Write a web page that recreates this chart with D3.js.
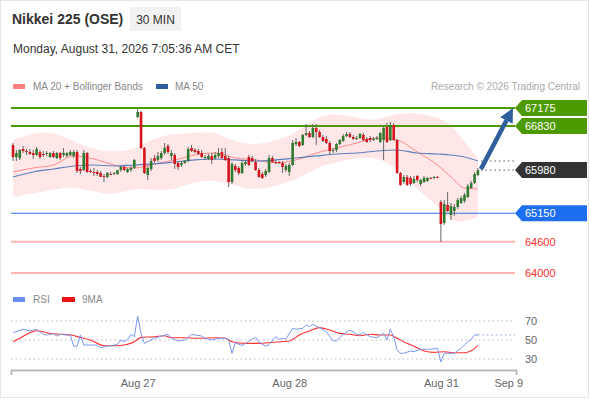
<!DOCTYPE html>
<html>
<head>
<meta charset="utf-8">
<script src="https://cdn.jsdelivr.net/npm/d3@7"></script>
<style>
  body { margin: 0; background: #fff; }
  svg { font-family: Arial, "Liberation Sans", sans-serif; }
</style>
</head>
<body>
<div id="chart"></div>
<script>
// 30 min candles, [open, high, low, close]
const candles = [
  [66463, 66502, 66155, 66232], [66232, 66367, 66155, 66309], [66213, 66386, 66175, 66367],
  [66386, 66444, 66309, 66348], [66348, 66386, 66271, 66328], [66328, 66386, 66271, 66290],
  [66309, 66367, 66194, 66271], [66271, 66425, 66252, 66386], [66328, 66367, 66194, 66232],
  [66290, 66348, 66232, 66271], [66290, 66348, 66252, 66309], [66232, 66328, 66213, 66309],
  [66309, 66348, 66213, 66232], [66213, 66328, 66194, 66309], [66309, 66328, 66175, 66213],
  [66271, 66405, 66232, 66309], [66252, 66328, 66232, 66309], [66271, 66367, 66252, 66328],
  [66252, 66367, 66213, 66328], [66328, 66367, 65924, 65963], [66001, 66040, 65905, 65963],
  [65982, 66367, 65963, 66309], [66309, 66328, 65924, 65944], [65963, 66001, 65924, 65944],
  [65944, 66021, 65867, 65924], [65944, 65982, 65867, 65905], [65924, 65963, 65848, 65850],
  [65867, 65905, 65751, 65848], [65848, 65944, 65828, 65924], [65905, 65944, 65886, 65900],
  [65905, 65944, 65886, 65924], [65905, 65963, 65886, 65982], [65982, 66059, 65944, 66040],
  [66040, 66078, 65963, 65982], [65944, 66021, 65924, 66001], [65982, 66059, 65944, 66021],
  [66021, 66194, 66001, 66175], [67002, 67156, 66983, 67098], [67098, 67117, 66386, 66405],
  [66405, 66425, 65905, 65924], [65886, 66059, 65790, 66021], [66001, 66213, 65963, 66155],
  [66213, 66271, 66117, 66155], [66175, 66328, 66136, 66252], [66213, 66348, 66175, 66309],
  [66309, 66502, 66271, 66405], [66444, 66482, 66290, 66328], [66252, 66367, 66175, 66309],
  [66271, 66309, 66001, 66098], [66117, 66155, 65982, 66040], [66078, 66155, 66040, 66117],
  [66117, 66175, 66098, 66155], [66155, 66425, 66136, 66386], [66405, 66463, 66328, 66348],
  [66367, 66405, 66309, 66328], [66348, 66386, 66271, 66290], [66309, 66367, 66213, 66232],
  [66213, 66271, 66175, 66232], [66194, 66290, 66175, 66252], [66252, 66309, 66098, 66175],
  [66213, 66328, 66175, 66271], [66252, 66405, 66213, 66309], [66328, 66405, 66194, 66213],
  [66252, 66405, 66155, 66175], [66213, 66252, 65655, 65751], [65751, 66136, 65713, 66098],
  [66059, 66098, 65944, 65982], [66021, 66059, 65886, 65924], [65924, 66175, 65905, 66117],
  [66098, 66175, 66059, 66136], [66232, 66271, 66059, 66078], [66213, 66252, 66136, 66155],
  [66136, 66194, 65963, 65982], [65982, 66021, 65828, 65848], [65905, 65944, 65809, 65828],
  [65886, 66001, 65848, 65963], [65944, 66271, 65924, 66213], [66213, 66252, 66117, 66136],
  [66136, 66175, 66098, 66130], [66136, 66155, 66098, 66117], [66117, 66155, 65924, 66040],
  [65982, 66098, 65944, 66059], [65944, 66117, 65867, 66078], [66078, 66559, 66059, 66502],
  [66482, 66598, 66444, 66521], [66521, 66540, 66425, 66444], [66463, 66675, 66444, 66656],
  [66656, 66867, 66636, 66694], [66694, 66732, 66598, 66617], [66617, 66867, 66598, 66790],
  [66790, 66867, 66463, 66713], [66713, 66752, 66598, 66617], [66617, 66656, 66521, 66540],
  [66579, 66636, 66482, 66502], [66502, 66540, 66271, 66348], [66348, 66405, 66309, 66367],
  [66367, 66502, 66328, 66482], [66482, 66579, 66463, 66559], [66540, 66675, 66521, 66636],
  [66636, 66713, 66617, 66675], [66675, 66713, 66598, 66617], [66617, 66656, 66559, 66579],
  [66579, 66636, 66559, 66598], [66598, 66694, 66579, 66675], [66656, 66694, 66540, 66559],
  [66579, 66617, 66502, 66521], [66598, 66636, 66521, 66559], [66559, 66617, 66540, 66579],
  [66579, 66636, 66559, 66598], [66521, 66713, 66502, 66694], [66559, 66829, 66175, 66790],
  [66809, 66886, 66502, 66521], [66559, 66906, 66540, 66848], [66848, 66886, 66540, 66559],
  [66559, 66579, 65905, 65924], [65924, 65944, 65674, 65694], [65751, 65886, 65713, 65848],
  [65848, 65886, 65674, 65694], [65828, 65867, 65674, 65713], [65732, 65867, 65713, 65809],
  [65867, 65886, 65751, 65790], [65713, 65809, 65674, 65790], [65751, 65867, 65732, 65828],
  [65771, 65848, 65751, 65828], [65828, 65848, 65809, 65820], [65828, 65867, 65809, 65848],
  [65848, 65867, 65828, 65840], [65366, 65405, 64597, 64943], [64962, 65405, 64924, 65328],
  [65309, 65559, 65174, 65193], [65116, 65347, 65020, 65289], [65193, 65328, 65097, 65270],
  [65270, 65443, 65232, 65405], [65347, 65482, 65328, 65443], [65386, 65540, 65347, 65501],
  [65463, 65713, 65443, 65674], [65636, 65771, 65617, 65732], [65732, 65944, 65713, 65905],
  [65886, 66021, 65867, 65980]
];

// MA 20 + Bollinger bands and MA 50, read at these candle indexes
const bandIdx = [0, 6, 12, 18, 24, 30, 36, 42, 48, 54, 60, 66, 72, 78, 84, 90, 96, 102, 108, 114, 120, 126, 130, 134, 138];
const upperBand = [66559, 66694, 66713, 66540, 66367, 66328, 66367, 66617, 66675, 66694, 66732, 66502, 66463, 66540, 66694, 67002, 67079, 66983, 66925, 67079, 67079, 67002, 66867, 66521, 66213];
const lowerBand = [65463, 65540, 65597, 65674, 65559, 65501, 65636, 65597, 65597, 65771, 65790, 65674, 65597, 65674, 65790, 66021, 66136, 66213, 66232, 66021, 65597, 65309, 64982, 64982, 65078];
const ma20 = [65944, 66021, 66078, 66252, 66194, 66078, 66021, 66098, 66175, 66271, 66309, 66213, 66175, 66117, 66175, 66309, 66405, 66502, 66598, 66559, 66328, 66078, 65848, 65636, 65617];
const ma50 = [65848, 65944, 66001, 66059, 66078, 66059, 66078, 66098, 66136, 66175, 66194, 66175, 66155, 66175, 66213, 66252, 66290, 66309, 66348, 66367, 66309, 66290, 66271, 66232, 66155];

// RSI and its 9 period MA
const rsiIdx = [0, 3, 5, 7, 9, 10, 12, 13, 14, 16, 17, 18, 19, 20, 21, 23, 25, 26, 28, 29, 31, 32, 33, 34, 35, 36, 37, 38, 39, 41, 42, 44, 46, 47, 49, 51, 53, 54, 56, 57, 59, 61, 63, 64, 65, 66, 68, 70, 72, 73, 75, 76, 78, 79, 80, 81, 83, 84, 86, 87, 88, 89, 91, 93, 95, 96, 98, 100, 102, 103, 104, 106, 108, 110, 111, 112, 113, 114, 115, 116, 118, 119, 121, 124, 126, 127, 128, 130, 131, 133, 134, 135, 136, 137, 138];
const rsiVal = [57.7, 61.3, 59.5, 61.3, 56.0, 55.3, 56.6, 54.2, 56.0, 55.3, 55.3, 43.5, 43.2, 55.3, 44.7, 44.7, 44.7, 41.9, 43.7, 43.7, 45.5, 50.0, 48.2, 50.7, 56.0, 53.5, 75.3, 57.0, 46.5, 50.0, 51.8, 54.2, 56.0, 51.8, 49.0, 50.0, 56.0, 55.3, 54.2, 51.8, 50.0, 51.8, 51.8, 50.0, 36.0, 47.0, 44.2, 48.7, 52.9, 47.7, 43.5, 45.3, 53.5, 50.7, 51.8, 51.0, 62.3, 61.3, 62.3, 65.8, 64.0, 66.5, 63.0, 58.7, 49.0, 49.0, 56.0, 60.5, 56.0, 55.3, 58.0, 53.5, 52.4, 57.0, 50.0, 61.3, 53.5, 39.5, 36.0, 36.0, 38.4, 37.7, 40.2, 40.2, 41.2, 27.0, 36.0, 36.0, 36.0, 41.2, 44.7, 48.2, 50.7, 55.3, 55.3];
const rsiMaIdx = [0, 2, 5, 7, 10, 13, 17, 20, 23, 27, 31, 34, 36, 38, 42, 45, 47, 51, 55, 61, 63, 65, 69, 73, 77, 82, 85, 88, 91, 94, 97, 100, 103, 106, 109, 112, 114, 117, 120, 122, 125, 128, 131, 134, 136, 138];
const rsiMaVal = [48.2, 51.8, 57.7, 59.8, 57.7, 56.3, 55.3, 52.8, 50.0, 44.0, 44.0, 45.5, 48.2, 52.8, 53.5, 54.5, 52.4, 52.4, 51.8, 52.4, 51.8, 48.2, 46.5, 46.5, 47.6, 49.0, 55.3, 59.5, 63.0, 60.5, 57.0, 56.0, 54.5, 56.0, 55.3, 55.3, 51.8, 46.5, 41.9, 38.4, 37.0, 37.7, 36.6, 36.6, 38.7, 44.0];
const rsiTicks = [70, 50, 30];

// key levels
const targets = [67175, 66830];
const pivot = 65150;
const supports = [64600, 64000];

// x axis
const dayIdx = [37, 82, 127, 147];
const dayLabels = ["Aug 27", "Aug 28", "Aug 31", "Sep 9"];
const targetIdx = 148.4;

const w = 590;
const h = 400;
const font = 'Arial, "Liberation Sans", sans-serif';

const svg = d3.select("#chart").append("svg").attr("width", w).attr("height", h);

svg.append("rect")
  .attr("x", 0.5).attr("y", 0.5).attr("width", w - 2).attr("height", h - 3)
  .attr("fill", "#fff").attr("stroke", "#e6e6e6");

const xScale = d3.scaleLinear().domain([-0.6, 149.3]).range([11, 516]);
const yScale = d3.scaleLinear().domain([64000, 67175]).range([273, 108]);
const rsiScale = d3.scaleLinear().domain([30, 70]).range([359, 321]);

// header
svg.append("text").attr("x", 12).attr("y", 24)
  .attr("font-size", 14).attr("font-weight", "bold").attr("fill", "#333")
  .text("Nikkei 225 (OSE)");
svg.append("rect").attr("x", 130).attr("y", 7).attr("width", 51).attr("height", 24).attr("fill", "#f1f1f1");
svg.append("text").attr("x", 155.5).attr("y", 24).attr("text-anchor", "middle")
  .attr("font-size", 12).attr("fill", "#333").text("30 MIN");
svg.append("text").attr("x", 13).attr("y", 53)
  .attr("font-size", 12).attr("fill", "#333")
  .text("Monday, August 31, 2026 7:05:36 AM CET");

// legend
svg.append("rect").attr("x", 13).attr("y", 84).attr("width", 12).attr("height", 5).attr("fill", "#ff8080");
svg.append("text").attr("x", 33).attr("y", 90).attr("font-size", 10).attr("fill", "#888").text("MA 20 + Bollinger Bands");
svg.append("rect").attr("x", 156).attr("y", 84).attr("width", 12).attr("height", 5).attr("fill", "#2f5d9e");
svg.append("text").attr("x", 175).attr("y", 90).attr("font-size", 10).attr("fill", "#888").text("MA 50");
svg.append("text").attr("x", 580).attr("y", 90).attr("text-anchor", "end")
  .attr("font-size", 10).attr("fill", "#aaa").text("Research \u00a9 2026 Trading Central");

// bollinger band
const bandData = bandIdx.map((d, i) => ({ i: d, up: upperBand[i], lo: lowerBand[i], m20: ma20[i], m50: ma50[i] }));

svg.append("path")
  .datum(bandData)
  .attr("d", d3.area()
    .x((d) => xScale(d.i))
    .y0((d) => yScale(d.lo))
    .y1((d) => yScale(d.up))
    .curve(d3.curveBasis))
  .attr("fill", "#ffe7e7");

// level lines
const lineLeft = 11;
const lineRight = 515;

targets.forEach(function (v) {
  svg.append("line").attr("x1", lineLeft).attr("x2", lineRight)
    .attr("y1", yScale(v)).attr("y2", yScale(v))
    .attr("stroke", "#4c9a00").attr("stroke-width", 2);
});
svg.append("line").attr("x1", lineLeft).attr("x2", lineRight)
  .attr("y1", yScale(pivot)).attr("y2", yScale(pivot))
  .attr("stroke", "#2f6fe4").attr("stroke-width", 1.2);
supports.forEach(function (v) {
  svg.append("line").attr("x1", lineLeft).attr("x2", lineRight)
    .attr("y1", yScale(v)).attr("y2", yScale(v))
    .attr("stroke", "#ffb4b4").attr("stroke-width", 2);
});

// moving averages
svg.append("path")
  .datum(bandData)
  .attr("d", d3.line().x((d) => xScale(d.i)).y((d) => yScale(d.m20)).curve(d3.curveMonotoneX))
  .attr("fill", "none").attr("stroke", "#ff8c8c").attr("stroke-width", 1);
svg.append("path")
  .datum(bandData)
  .attr("d", d3.line().x((d) => xScale(d.i)).y((d) => yScale(d.m50)).curve(d3.curveMonotoneX))
  .attr("fill", "none").attr("stroke", "#5a7fbf").attr("stroke-width", 1.2);

// candles
const candleG = svg.append("g");
candleG.selectAll("line")
  .data(candles)
  .enter()
  .append("line")
  .attr("x1", (d, i) => xScale(i))
  .attr("x2", (d, i) => xScale(i))
  .attr("y1", (d) => yScale(d[1]))
  .attr("y2", (d) => yScale(d[2]))
  .attr("stroke", "#666")
  .attr("stroke-width", 1);

candleG.selectAll("rect")
  .data(candles)
  .enter()
  .append("rect")
  .attr("x", (d, i) => xScale(i) - 1.3)
  .attr("width", 2.6)
  .attr("y", (d) => yScale(Math.max(d[0], d[3])))
  .attr("height", (d) => Math.max(1, Math.abs(yScale(d[0]) - yScale(d[3]))))
  .attr("fill", (d) => d[3] >= d[0] ? "#2e7a2e" : "#d6141c");

// projection dots and arrow
const lastIdx = candles.length - 1;
const lastClose = candles[lastIdx][3];
const dotEnd = lineRight;

svg.append("line")
  .attr("x1", xScale(lastIdx) + 3).attr("x2", dotEnd)
  .attr("y1", yScale(lastClose)).attr("y2", yScale(lastClose))
  .attr("stroke", "#555").attr("stroke-dasharray", "1.5,3");
svg.append("line")
  .attr("x1", xScale(lastIdx) + 3).attr("x2", dotEnd)
  .attr("y1", yScale(ma50[ma50.length - 1])).attr("y2", yScale(ma50[ma50.length - 1]))
  .attr("stroke", "#555").attr("stroke-dasharray", "1.5,3");

const ax0 = xScale(lastIdx) + 3;
const ay0 = yScale(lastClose) - 1;
const ax1 = xScale(targetIdx);
const ay1 = yScale(targets[0]);
const ang = Math.atan2(ay1 - ay0, ax1 - ax0);
const headLen = 14;
const headW = 7;
const bx = ax1 - headLen * Math.cos(ang);
const by = ay1 - headLen * Math.sin(ang);

svg.append("line")
  .attr("x1", ax0).attr("y1", ay0).attr("x2", bx).attr("y2", by)
  .attr("stroke", "#2d5f9e").attr("stroke-width", 4.5);
svg.append("polygon")
  .attr("points", [
    [ax1, ay1],
    [bx + headW * Math.sin(ang), by - headW * Math.cos(ang)],
    [bx - headW * Math.sin(ang), by + headW * Math.cos(ang)]
  ].map((p) => p.join(",")).join(" "))
  .attr("fill", "#2d5f9e");

// price tags
function tagPath(y) {
  const x0 = 515, x1 = 587, hh = 8;
  return `M${x0},${y} L${x0 + 7},${y - hh} L${x1},${y - hh} L${x1},${y + hh} L${x0 + 7},${y + hh} Z`;
}

function addTag(v, fill, textFill) {
  const y = yScale(v);
  if (fill) {
    svg.append("path").attr("d", tagPath(y)).attr("fill", fill);
  }
  svg.append("text").attr("x", 525).attr("y", y + 4)
    .attr("font-size", 11).attr("fill", textFill).text(v);
}

targets.forEach((v) => addTag(v, "#4c9a00", "#fff"));
addTag(lastClose, "#333", "#fff");
addTag(pivot, "#1e6ef0", "#fff");
supports.forEach((v) => addTag(v, null, "#ff2b2b"));

// RSI panel
svg.append("rect").attr("x", 13).attr("y", 297).attr("width", 12).attr("height", 5).attr("fill", "#6a8ff0");
svg.append("text").attr("x", 33).attr("y", 303).attr("font-size", 10).attr("fill", "#888").text("RSI");
svg.append("rect").attr("x", 62).attr("y", 297).attr("width", 13).attr("height", 5).attr("fill", "#ee1111");
svg.append("text").attr("x", 82).attr("y", 303).attr("font-size", 10).attr("fill", "#888").text("9MA");

rsiTicks.forEach(function (t) {
  svg.append("line").attr("x1", lineLeft).attr("x2", 513)
    .attr("y1", rsiScale(t)).attr("y2", rsiScale(t))
    .attr("stroke", "#bbb").attr("stroke-dasharray", "1.5,3");
  svg.append("text").attr("x", 525).attr("y", rsiScale(t) + 4)
    .attr("font-size", 11).attr("fill", "#666").text(t);
});

const rsiData = rsiIdx.map((d, i) => ({ i: d, v: rsiVal[i] }));
const rsiMaData = rsiMaIdx.map((d, i) => ({ i: d, v: rsiMaVal[i] }));

svg.append("path").datum(rsiMaData)
  .attr("d", d3.line().x((d) => xScale(d.i)).y((d) => rsiScale(d.v)).curve(d3.curveMonotoneX))
  .attr("fill", "none").attr("stroke", "#ff3030").attr("stroke-width", 1.1);
svg.append("path").datum(rsiData)
  .attr("d", d3.line().x((d) => xScale(d.i)).y((d) => rsiScale(d.v)))
  .attr("fill", "none").attr("stroke", "#7b97f2").attr("stroke-width", 1);

const lastRsi = rsiVal[rsiVal.length - 1];
svg.append("line")
  .attr("x1", xScale(rsiIdx[rsiIdx.length - 1])).attr("x2", dotEnd)
  .attr("y1", rsiScale(lastRsi)).attr("y2", rsiScale(lastRsi))
  .attr("stroke", "#7b97f2").attr("stroke-dasharray", "1.5,3");

// x axis
const xAxis = d3.axisBottom(xScale)
  .tickValues(dayIdx)
  .tickFormat((d, i) => dayLabels[i])
  .tickSizeInner(0)
  .tickSizeOuter(5)
  .tickPadding(9);

const axisG = svg.append("g")
  .attr("transform", "translate(0, 370)")
  .call(xAxis);
axisG.select(".domain").attr("stroke", "#bbb").attr("stroke-width", 2);
axisG.selectAll("text").attr("font-size", 11).attr("fill", "#666").attr("font-family", font);
</script>
</body>
</html>
